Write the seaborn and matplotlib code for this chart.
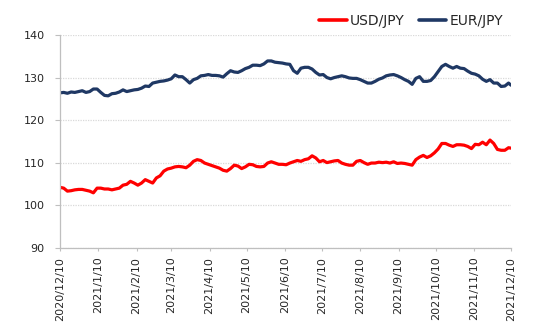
import matplotlib
matplotlib.use("Agg")
import matplotlib.pyplot as plt
import seaborn as sns
import pandas as pd

# Sampling dates (every 3 days from 2020/12/10, plus the final day)
start_date = "2020-12-10"
end_date = "2021-12-10"
n_samples = 122

usd_jpy = [
    104.2, 104.0, 103.3, 103.4, 103.6, 103.7, 103.7, 103.5, 103.3, 102.9,
    104.0, 104.0, 103.8, 103.8, 103.6, 103.8, 104.0, 104.7, 104.9, 105.6,
    105.2, 104.7, 105.2, 106.0, 105.6, 105.2, 106.4, 106.9, 108.0, 108.5,
    108.7, 109.0, 109.1, 109.0, 108.8, 109.4, 110.3, 110.7, 110.5, 109.9,
    109.6, 109.3, 109.0, 108.7, 108.2, 108.0, 108.6, 109.4, 109.2, 108.6,
    109.0, 109.6, 109.5, 109.1, 109.0, 109.1, 109.9, 110.2, 109.9, 109.6,
    109.6, 109.5, 109.9, 110.2, 110.5, 110.3, 110.7, 110.9, 111.6, 111.1,
    110.2, 110.5, 110.0, 110.2, 110.4, 110.5, 109.9, 109.6, 109.4, 109.4,
    110.3, 110.5, 110.0, 109.6, 109.9, 109.9, 110.1, 110.0, 110.1, 109.9,
    110.2, 109.8, 109.9, 109.8, 109.6, 109.4, 110.7, 111.3, 111.7, 111.2,
    111.6, 112.3, 113.2, 114.5, 114.5, 114.1, 113.8, 114.2, 114.2, 114.1,
    113.8, 113.3, 114.3, 114.2, 114.8, 114.2, 115.3, 114.5, 113.1, 112.9,
    112.9, 113.5, 113.4,
]

eur_jpy = [
    126.4, 126.5, 126.3, 126.6, 126.5, 126.7, 126.9, 126.5, 126.7, 127.3,
    127.3, 126.5, 125.8, 125.7, 126.2, 126.3, 126.6, 127.1, 126.7, 126.9,
    127.1, 127.2, 127.5, 128.0, 127.9, 128.7, 128.9, 129.1, 129.2, 129.4,
    129.7, 130.6, 130.2, 130.2, 129.5, 128.7, 129.5, 129.8, 130.4, 130.5,
    130.7, 130.5, 130.5, 130.4, 130.1, 130.9, 131.6, 131.3, 131.2, 131.6,
    132.1, 132.4, 132.9, 132.9, 132.8, 133.2, 133.9, 133.9, 133.6, 133.5,
    133.4, 133.2, 133.1, 131.6, 131.0, 132.2, 132.4, 132.4, 132.0, 131.2,
    130.6, 130.7, 130.0, 129.7, 130.0, 130.2, 130.4, 130.2, 129.9, 129.8,
    129.8, 129.5, 129.1, 128.7, 128.7, 129.1, 129.6, 129.9, 130.4, 130.6,
    130.7, 130.4, 130.0, 129.5, 129.1, 128.4, 129.8, 130.2, 129.1, 129.1,
    129.3, 130.2, 131.4, 132.6, 133.1, 132.6, 132.2, 132.6, 132.2, 132.1,
    131.5, 131.0, 130.8, 130.4, 129.6, 129.1, 129.5, 128.7, 128.7, 127.9,
    128.0, 128.7, 128.2,
]

series_names = ["USD/JPY", "EUR/JPY"]
series_colors = ["#FF0000", "#1F3864"]

tick_dates = [
    "2020-12-10", "2021-01-10", "2021-02-10", "2021-03-10", "2021-04-10",
    "2021-05-10", "2021-06-10", "2021-07-10", "2021-08-10", "2021-09-10",
    "2021-10-10", "2021-11-10", "2021-12-10",
]
tick_labels = [
    "2020/12/10", "2021/1/10", "2021/2/10", "2021/3/10", "2021/4/10",
    "2021/5/10", "2021/6/10", "2021/7/10", "2021/8/10", "2021/9/10",
    "2021/10/10", "2021/11/10", "2021/12/10",
]
y_ticks = [90, 100, 110, 120, 130, 140]

dates = list(pd.date_range(start_date, periods=n_samples, freq="3D")) + [pd.Timestamp(end_date)]

df = pd.concat([
    pd.DataFrame({"date": dates, "rate": usd_jpy, "pair": series_names[0]}),
    pd.DataFrame({"date": dates, "rate": eur_jpy, "pair": series_names[1]}),
])

sns.set_theme(style="white")
plt.rcParams["font.family"] = ["DejaVu Sans"]

fig = plt.figure(figsize=(5.48, 3.27), dpi=100)
ax = fig.add_axes([0.1095, 0.2425, 0.823, 0.6505])

sns.lineplot(data=df, x="date", y="rate", hue="pair",
             palette=dict(zip(series_names, series_colors)),
             linewidth=2.3, ax=ax, legend=False)

ax.set_xlim(pd.Timestamp(start_date), pd.Timestamp(end_date))
ax.set_ylim(90, 140)
ax.set_yticks(y_ticks)
ax.set_yticklabels([str(v) for v in y_ticks])
ax.set_xticks(pd.to_datetime(tick_dates))
ax.set_xticklabels(tick_labels, rotation=90)
ax.set_xlabel("")
ax.set_ylabel("")

ax.grid(axis="y", color="#D9D9D9", linestyle=(0, (1, 1)), linewidth=0.9)
ax.grid(axis="x", visible=False)
ax.set_axisbelow(True)

for side in ["top", "right"]:
    ax.spines[side].set_visible(False)
for side in ["left", "bottom"]:
    ax.spines[side].set_color("#BFBFBF")
    ax.spines[side].set_linewidth(0.9)

ax.tick_params(axis="y", which="major", left=True, length=3.6, width=0.8,
               color="#BFBFBF", pad=7.5, labelsize=8, labelcolor="#262626")
ax.tick_params(axis="x", which="major", bottom=True, length=2.5, width=0.8,
               color="#BFBFBF", pad=4, labelsize=8, labelcolor="#262626")

handles = [plt.Line2D([], [], color=c, linewidth=2.6) for c in series_colors]
fig.legend(handles, series_names, loc="center left",
           bbox_to_anchor=(0.583, 0.936), ncol=2, frameon=False,
           handlelength=2.0, handletextpad=0.2, columnspacing=1.0,
           borderpad=0, borderaxespad=0, fontsize=10,
           labelcolor="#262626")

fig.savefig("out.png", dpi=100)
